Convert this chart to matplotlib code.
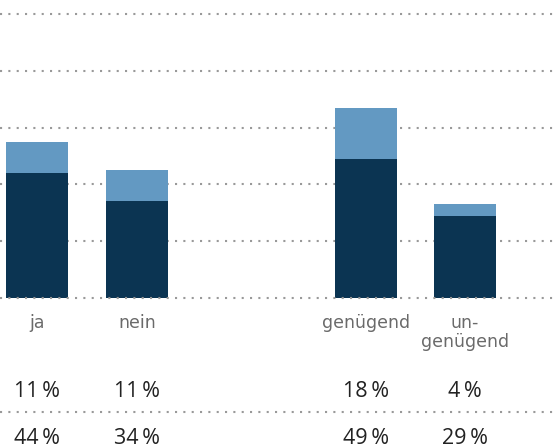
import matplotlib.pyplot as plt
from matplotlib.lines import Line2D
from matplotlib.transforms import blended_transform_factory

categories = ['ja', 'nein', 'genügend', 'un-\ngenügend']
dark_vals = [44, 34, 49, 29]
light_vals = [11, 11, 18, 4]
xpos = [0, 1, 3.29, 4.28]

dark = '#0b3452'
light = '#6399c2'
grid_col = '#999999'

W, H = 553, 447
fig = plt.figure(figsize=(W / 100, H / 100), dpi=100)
# baseline at y=298 px, 100 % at y=14 px
ax = fig.add_axes([0, (H - 298) / H, 1, 298 / H])
ax.set_xlim(-0.37, 5.16)
ax.set_ylim(0, 298 / 2.84)
ax.axis('off')

ax.bar(xpos, dark_vals, width=0.62, color=dark, zorder=2)
ax.bar(xpos, light_vals, bottom=dark_vals, width=0.62, color=light, zorder=2)

dots = dict(color=grid_col, lw=1.5, linestyle=(0, (1, 3)))
for yv in [20, 40, 60, 80, 100]:
    ax.axhline(yv, zorder=1, **dots)
ax.axhline(0, zorder=3, clip_on=False, **dots)

# separator between the two percentage rows
fig.add_artist(Line2D([0, 1], [1 - 412 / H] * 2, transform=fig.transFigure, **dots))

tr = blended_transform_factory(ax.transData, fig.transFigure)
for x, lab in zip(xpos, categories):
    # baseline refers to the last line of a multi-line label
    base = 328.5 + 18.3 * lab.count('\n')
    ax.text(x, 1 - base / H, lab, transform=tr, ha='center', va='baseline',
            multialignment='center', fontsize=12.5, color='#6a6a6a',
            family=['DejaVu Sans'], linespacing=1.05)

for x, lv, dv in zip(xpos, light_vals, dark_vals):
    ax.text(x, 1 - 397 / H, f'{lv}\u2009%', transform=tr, ha='center', va='baseline',
            fontsize=15.5, color='#222222', family=['Open Sans', 'DejaVu Sans'])
    ax.text(x, 1 - 444 / H, f'{dv}\u2009%', transform=tr, ha='center', va='baseline',
            fontsize=15.5, color='#222222', family=['Open Sans', 'DejaVu Sans'])

fig.savefig('out.png', dpi=100)
